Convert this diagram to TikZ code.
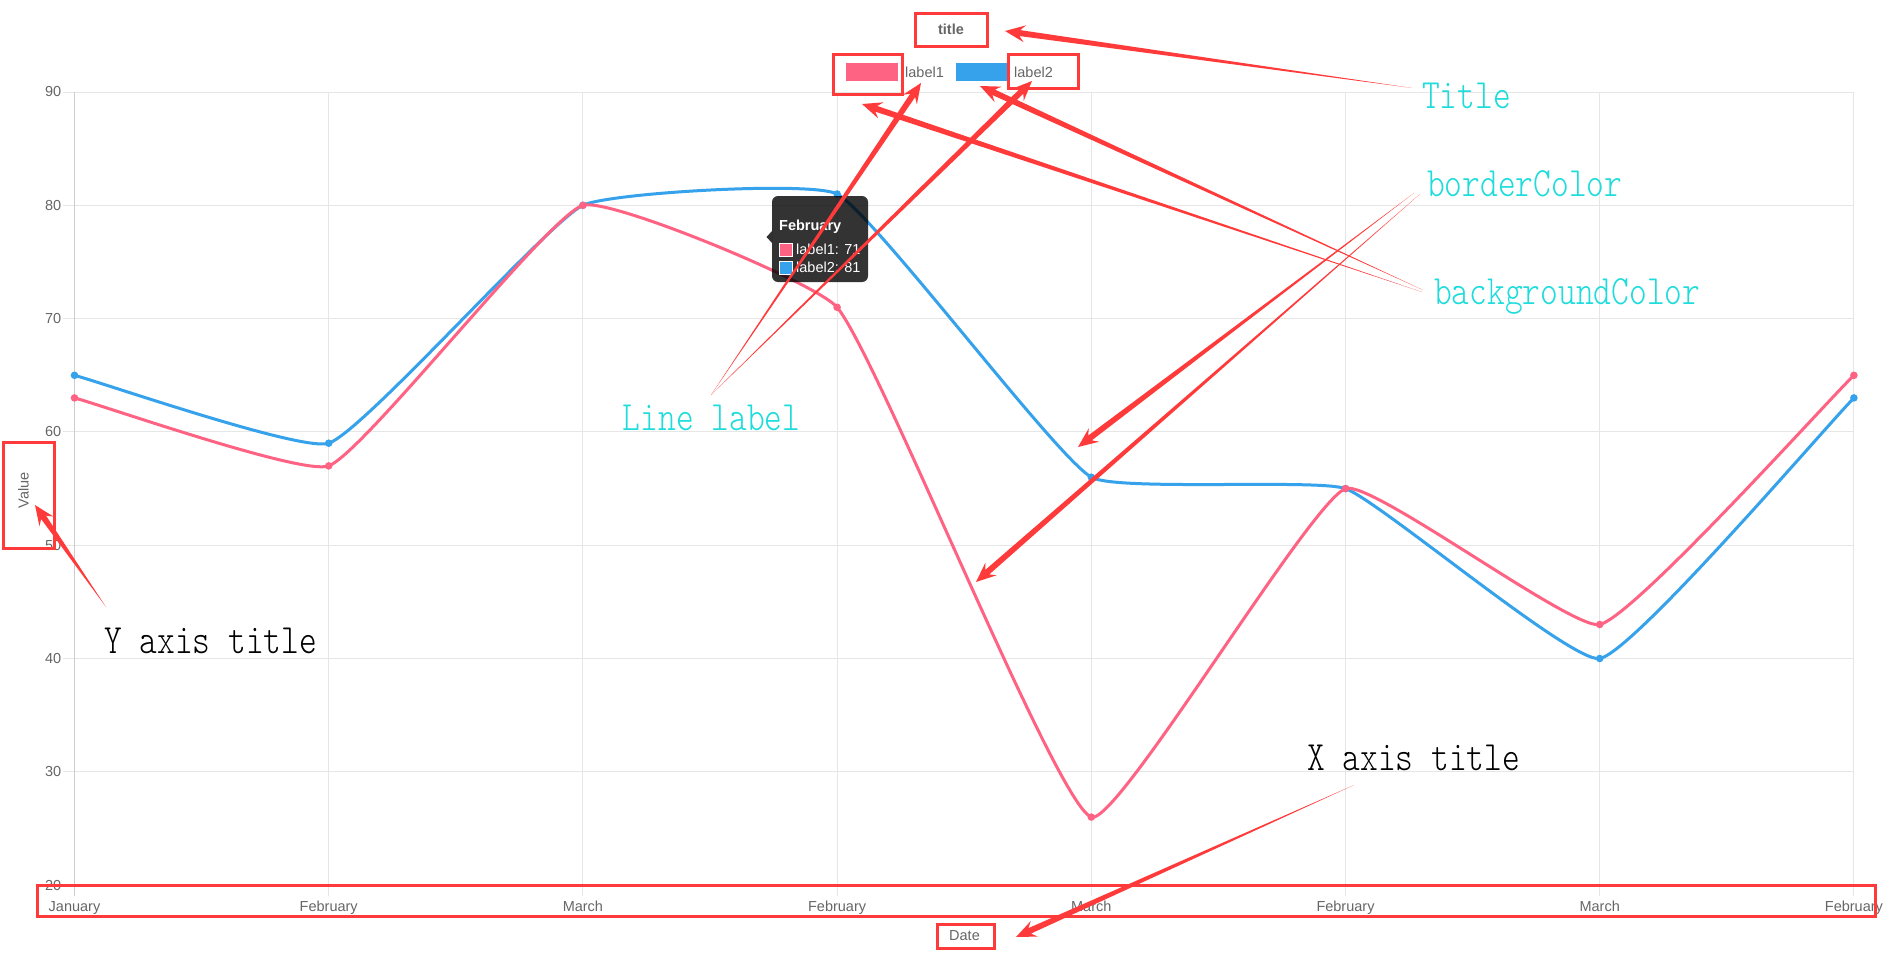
\documentclass[tikz,border=0pt]{standalone}
\usepackage{fontspec}
\setmainfont{Liberation Sans}
\newfontfamily\annotfont{lmmonolt10-regular.otf}[FakeStretch=0.81]
\usetikzlibrary{calc}
\definecolor{chartpink}{RGB}{255,99,132}
\definecolor{chartblue}{RGB}{54,162,235}
\definecolor{ticktext}{RGB}{102,102,102}
\definecolor{markred}{RGB}{255,58,58}
\definecolor{notecyan}{RGB}{30,220,220}
\definecolor{gridgray}{RGB}{230,230,230}
\tikzset{
  gridline/.style={draw=gridgray, line width=1pt},
  axisline/.style={draw=black!20, line width=1pt},
  ticklab/.style={font=\fontsize{14.5}{17}\selectfont, text=ticktext, inner sep=0pt},
  boldlab/.style={ticklab, font=\fontsize{14.5}{17}\selectfont\bfseries},
  tiplab/.style={font=\fontsize{14.5}{17}\selectfont, text=white, inner sep=0pt, anchor=west},
  markbox/.style={draw=markred, line width=3pt},
  note/.style={font=\annotfont\fontsize{41.7}{46}\selectfont, text=notecyan, inner sep=0pt, anchor=base west},
  blacknote/.style={note, text=black},
  pinkseries/.style={draw=chartpink, line width=3pt},
  blueseries/.style={draw=chartblue, line width=3pt},
}
\newcommand\taperarrow[2]{%
  \path ($(#2)!20pt!(#1)$) coordinate (tabarb) ($(#2)!15pt!(#1)$) coordinate (tanotch);
  \fill[markred] (#1) -- ($(tanotch)!3pt!90:(#2)$) -- ($(tabarb)!8.5pt!90:(#2)$) -- (#2)
     -- ($(tabarb)!8.5pt!-90:(#2)$) -- ($(tanotch)!3pt!-90:(#2)$) -- cycle;
}
\begin{document}
\begin{tikzpicture}[x=1pt, y=-1pt]
\useasboundingbox (0,0) rectangle (1896,954);
\fill[white] (0,0) rectangle (1896,954);

% grid
\foreach \v in {20,30,...,90}{
  \pgfmathsetmacro\yy{92+(90-\v)*11.33}
  \draw[gridline] (63,\yy) -- (1854,\yy);
  \node[ticklab, anchor=east] (ylab\v) at (61.5,\yy) {\v};
}
\foreach \i/\m in {0/January,1/February,2/March,3/February,4/March,5/February,6/March,7/February}{
  \pgfmathsetmacro\xx{74.5+254.2*\i}
  \ifnum\i=0 \draw[axisline] (\xx,92) -- (\xx,896); \else \draw[gridline] (\xx,92) -- (\xx,896); \fi
  \node[ticklab, anchor=base] (xlab\i) at (\xx,911.5) {\m};
}

% data points
\coordinate (a0) at (74.5,397.9);  \coordinate (a1) at (328.7,465.9);
\coordinate (a2) at (582.9,205.3); \coordinate (a3) at (837.1,307.3);
\coordinate (a4) at (1091.3,817.1);\coordinate (a5) at (1345.5,488.6);
\coordinate (a6) at (1599.7,624.5);\coordinate (a7) at (1853.9,375.3);
\coordinate (b0) at (74.5,375.3);  \coordinate (b1) at (328.7,443.2);
\coordinate (b2) at (582.9,205.3); \coordinate (b3) at (837.1,194.0);
\coordinate (b4) at (1091.3,477.2);\coordinate (b5) at (1345.5,488.6);
\coordinate (b6) at (1599.7,658.5);\coordinate (b7) at (1853.9,397.9);

\draw[blueseries] (b0) .. controls (105.0,383.5) and (302.4,452.0) .. (b1)
 .. controls (363.4,431.6) and (547.6,222.6) .. (b2)
 .. controls (608.7,192.7) and (812.6,180.9) .. (b3)
 .. controls (873.7,213.6) and (1054.7,456.0) .. (b4)
 .. controls (1115.8,491.4) and (1317.8,478.7) .. (b5)
 .. controls (1378.8,500.5) and (1571.8,663.5) .. (b6)
 .. controls (1632.8,652.6) and (1823.4,429.2) .. (b7);
\foreach \p in {b0,b1,b2,b3,b4,b5,b6,b7}{\fill[chartblue] (\p) circle[radius=3.8];}

\draw[pinkseries] (a0) .. controls (105.0,406.1) and (303.1,475.6) .. (a1)
 .. controls (364.1,452.5) and (548.1,216.2) .. (a2)
 .. controls (609.1,197.1) and (817.3,283.4) .. (a3)
 .. controls (878.3,356.9) and (1056.0,804.5) .. (a4)
 .. controls (1117.0,826.3) and (1309.5,502.3) .. (a5)
 .. controls (1370.5,479.1) and (1572.4,630.6) .. (a6)
 .. controls (1633.4,617.0) and (1823.4,405.2) .. (a7);
\foreach \p in {a0,a1,a2,a3,a4,a5,a6,a7}{\fill[chartpink] (\p) circle[radius=3.8];}

% tooltip
\fill[black, opacity=0.8, rounded corners=6pt] (772,196) rectangle (868,282);
\fill[black, opacity=0.8] (766.5,237) -- (772,231) -- (772,243) -- cycle;
\node[tiplab, font=\fontsize{14.5}{17}\selectfont\bfseries] (tiphead) at (779,227) {February};
\filldraw[fill=chartpink, draw=white, line width=1pt] (779.5,243) rectangle (792.5,256);
\filldraw[fill=chartblue, draw=white, line width=1pt] (779.5,261) rectangle (792.5,274);
\node[tiplab] (tip1) at (796,249.5) {label1: 71};
\node[tiplab] (tip2) at (796,267.5) {label2: 81};

% title and legend
\node[boldlab] (title) at (951,29.5) {title};
\filldraw[fill=chartpink, draw=chartpink, line width=1pt] (846.5,63.5) rectangle (897.5,80.5);
\node[ticklab, anchor=west] (leg1) at (905,72) {label1};
\filldraw[fill=chartblue, draw=chartblue, line width=1pt] (956.5,63.5) rectangle (1006.5,80.5);
\node[ticklab, anchor=west] (leg2) at (1014,72) {label2};

% axis titles
\node[ticklab] (xtitle) at (964.5,935.5) {Date};
\node[ticklab, rotate=90] (ytitle) at (23.5,490) {Value};

% red marking boxes
\draw[markbox] (915,13.5) rectangle (987,46);
\draw[markbox] (833,54.5) rectangle (902,94);
\draw[markbox] (1008.5,54.5) rectangle (1078,88);
\draw[markbox] (3,442.5) rectangle (54,548);
\draw[markbox] (37.5,885.5) rectangle (1875,916);
\draw[markbox] (937.5,924) rectangle (994,948);

% annotation texts
\node[note] (nTitle) at (1422,108.3) {Title};
\node[note] (nBorder) at (1427,196.7) {borderColor};
\node[note] (nBack) at (1434,304) {backgroundColor};
\node[note] (nLine) at (622.7,430) {Line label};
\node[blacknote] (nX) at (1307,770.7) {X axis title};
\node[blacknote] (nY) at (104,653.8) {Y axis title};

% arrow ends
\coordinate (tTitle) at (1412,88);  \coordinate (hTitle) at (1005,31);
\coordinate (tBg1) at (1422,292);   \coordinate (hBg1) at (862,104);
\coordinate (tBg2) at (1423,290);   \coordinate (hBg2) at (980,86);
\coordinate (tBd1) at (1414,193);   \coordinate (hBd1) at (1078,447);
\coordinate (tBd2) at (1420,194);   \coordinate (hBd2) at (976,582);
\coordinate (tLl) at (711,395);     \coordinate (hLl1) at (921,83);
\coordinate (hLl2) at (1032,81);
\coordinate (tX) at (1354,785);     \coordinate (hX) at (1016,937);
\coordinate (tY) at (106,607);      \coordinate (hY) at (35,505);

\taperarrow{tTitle}{hTitle}
\taperarrow{tBg1}{hBg1}
\taperarrow{tBg2}{hBg2}
\taperarrow{tBd1}{hBd1}
\taperarrow{tBd2}{hBd2}
\taperarrow{tLl}{hLl1}
\taperarrow{tLl}{hLl2}
\taperarrow{tX}{hX}
\taperarrow{tY}{hY}
\end{tikzpicture}
\end{document}
